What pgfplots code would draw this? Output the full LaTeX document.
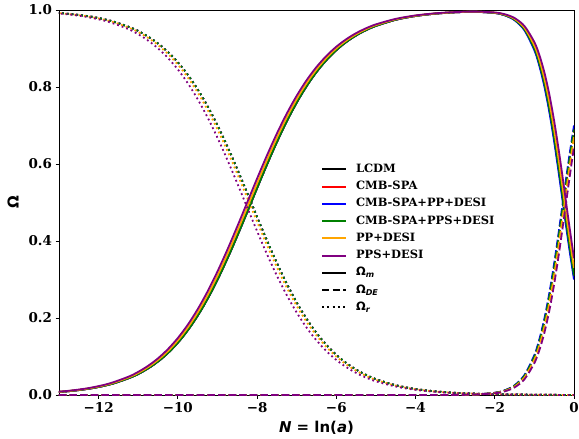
\documentclass[border=0pt]{standalone}
\usepackage{fontspec}
\setmainfont{DejaVu Serif}
\newfontfamily\dvs{DejaVu Sans}
\usepackage{pgfplots}
\pgfplotsset{compat=1.18}
\definecolor{mgreen}{HTML}{008000}
\definecolor{morange}{HTML}{FFA500}
\definecolor{mpurple}{HTML}{800080}
\tikzset{
  om/.style={line width=1.8bp, solid, smooth},
  ode/.style={line width=1.8bp, dash pattern=on 7.4bp off 3.2bp, smooth},
  orr/.style={line width=1.8bp, dash pattern=on 1.8bp off 3.0bp, smooth},
}
% Omega_m solid
\newcommand{\GreenM}{(-13.65,0.0041)(-13.15,0.0067)(-12.65,0.0110)(-12.15,0.0180)(-11.65,0.0293)(-11.15,0.0474)(-10.9,0.0601)(-10.65,0.0759)(-10.4,0.0953)(-10.15,0.1192)(-9.9,0.1480)(-9.65,0.1824)(-9.4,0.2227)(-9.15,0.2689)(-8.9,0.3208)(-8.65,0.3775)(-8.4,0.4378)(-8.15,0.5)(-7.9,0.5622)(-7.65,0.6225)(-7.4,0.6792)(-7.15,0.7311)(-6.9,0.7773)(-6.65,0.8176)(-6.4,0.8520)(-6.15,0.8808)(-5.9,0.9047)(-5.65,0.9241)(-5.4,0.9399)(-5.15,0.9526)(-5,0.9589)(-4.5,0.9747)(-4,0.9845)(-3.5,0.9905)(-3,0.9940)(-2.5,0.9953)(-2,0.9924)(-1.75,0.9868)(-1.5,0.9746)(-1.25,0.9494)(-1,0.8996)(-0.875,0.8606)(-0.75,0.8096)(-0.625,0.7452)(-0.5,0.6680)(-0.375,0.5804)(-0.25,0.4874)(-0.125,0.3952)(0,0.3100)}
\newcommand{\BlueM}{(-13.65,0.0041)(-13.15,0.0067)(-12.65,0.0110)(-12.15,0.0180)(-11.65,0.0293)(-11.15,0.0474)(-10.9,0.0601)(-10.65,0.0759)(-10.4,0.0953)(-10.15,0.1192)(-9.9,0.1480)(-9.65,0.1824)(-9.4,0.2227)(-9.15,0.2689)(-8.9,0.3208)(-8.65,0.3775)(-8.4,0.4378)(-8.15,0.5)(-7.9,0.5622)(-7.65,0.6225)(-7.4,0.6792)(-7.15,0.7311)(-6.9,0.7773)(-6.65,0.8176)(-6.4,0.8520)(-6.15,0.8808)(-5.9,0.9047)(-5.65,0.9241)(-5.4,0.9399)(-5.15,0.9526)(-5,0.9589)(-4.5,0.9747)(-4,0.9845)(-3.5,0.9905)(-3,0.9940)(-2.5,0.9952)(-2,0.9922)(-1.75,0.9863)(-1.5,0.9735)(-1.25,0.9471)(-1,0.8953)(-0.875,0.8549)(-0.75,0.8022)(-0.625,0.7362)(-0.5,0.6574)(-0.375,0.5689)(-0.25,0.4756)(-0.125,0.3840)(0,0.3000)}
\newcommand{\OrangeM}{(-13.7,0.0041)(-13.2,0.0067)(-12.7,0.0110)(-12.2,0.0180)(-11.7,0.0293)(-11.2,0.0474)(-10.95,0.0601)(-10.7,0.0759)(-10.45,0.0953)(-10.2,0.1192)(-9.95,0.1480)(-9.7,0.1824)(-9.45,0.2227)(-9.2,0.2689)(-8.95,0.3208)(-8.7,0.3775)(-8.45,0.4378)(-8.2,0.5)(-7.95,0.5622)(-7.7,0.6225)(-7.45,0.6792)(-7.2,0.7311)(-6.95,0.7773)(-6.7,0.8176)(-6.45,0.8520)(-6.2,0.8808)(-5.95,0.9047)(-5.7,0.9241)(-5.45,0.9399)(-5.2,0.9526)(-5,0.9608)(-4.5,0.9759)(-4,0.9852)(-3.5,0.9909)(-3,0.9943)(-2.5,0.9956)(-2,0.9930)(-1.75,0.9879)(-1.5,0.9768)(-1.25,0.9536)(-1,0.9076)(-0.875,0.8713)(-0.75,0.8233)(-0.625,0.7623)(-0.5,0.6880)(-0.375,0.6026)(-0.25,0.5104)(-0.125,0.4174)(0,0.3300)}
\newcommand{\PurpleM}{(-13.75,0.0041)(-13.25,0.0067)(-12.75,0.0110)(-12.25,0.0180)(-11.75,0.0293)(-11.25,0.0474)(-11.0,0.0601)(-10.75,0.0759)(-10.5,0.0953)(-10.25,0.1192)(-10.0,0.1480)(-9.75,0.1824)(-9.5,0.2227)(-9.25,0.2689)(-9.0,0.3208)(-8.75,0.3775)(-8.5,0.4378)(-8.25,0.5)(-8.0,0.5622)(-7.75,0.6225)(-7.5,0.6792)(-7.25,0.7311)(-7.0,0.7773)(-6.75,0.8176)(-6.5,0.8520)(-6.25,0.8808)(-6.0,0.9047)(-5.75,0.9241)(-5.5,0.9399)(-5.25,0.9526)(-5,0.9627)(-4.5,0.9770)(-4,0.9859)(-3.5,0.9914)(-3,0.9946)(-2.5,0.9958)(-2,0.9936)(-1.75,0.9891)(-1.5,0.9791)(-1.25,0.9582)(-1,0.9165)(-0.875,0.8832)(-0.75,0.8389)(-0.625,0.7818)(-0.5,0.7113)(-0.375,0.6288)(-0.25,0.5381)(-0.125,0.4446)(0,0.3550)}
% Omega_DE dashed
\newcommand{\GreenDE}{(-13,0)(-5,0)(-4,0.00001)(-3,0.0003)(-2.5,0.0012)(-2,0.0055)(-1.75,0.0115)(-1.5,0.0241)(-1.25,0.0497)(-1,0.0997)(-0.875,0.1388)(-0.75,0.1899)(-0.625,0.2544)(-0.5,0.3317)(-0.375,0.4194)(-0.25,0.5124)(-0.125,0.6046)(0,0.6899)}
\newcommand{\BlueDE}{(-13,0)(-5,0)(-4,0.00001)(-3,0.0003)(-2.5,0.0013)(-2,0.0057)(-1.75,0.0121)(-1.5,0.0252)(-1.25,0.0520)(-1,0.1040)(-0.875,0.1445)(-0.75,0.1973)(-0.625,0.2634)(-0.5,0.3423)(-0.375,0.4309)(-0.25,0.5242)(-0.125,0.6159)(0,0.6999)}
\newcommand{\OrangeDE}{(-13,0)(-5,0)(-4,0.00001)(-3,0.0002)(-2.5,0.0011)(-2,0.0050)(-1.75,0.0105)(-1.5,0.0220)(-1.25,0.0455)(-1,0.0917)(-0.875,0.1281)(-0.75,0.1762)(-0.625,0.2373)(-0.5,0.3117)(-0.375,0.3972)(-0.25,0.4895)(-0.125,0.5825)(0,0.6699)}
\newcommand{\PurpleDE}{(-13,0)(-5,0)(-4,0.00001)(-3,0.0002)(-2.5,0.0010)(-2,0.0045)(-1.75,0.0094)(-1.5,0.0198)(-1.25,0.0409)(-1,0.0829)(-0.875,0.1162)(-0.75,0.1607)(-0.625,0.2178)(-0.5,0.2884)(-0.375,0.3709)(-0.25,0.4618)(-0.125,0.5552)(0,0.6449)}
% Omega_r dotted
\newcommand{\GreenR}{(-13.65,0.9959)(-13.15,0.9933)(-12.65,0.9890)(-12.15,0.9820)(-11.65,0.9707)(-11.15,0.9526)(-10.9,0.9399)(-10.65,0.9241)(-10.4,0.9047)(-10.15,0.8808)(-9.9,0.8520)(-9.65,0.8176)(-9.4,0.7773)(-9.15,0.7311)(-8.9,0.6792)(-8.65,0.6225)(-8.4,0.5622)(-8.15,0.5)(-7.9,0.4378)(-7.65,0.3775)(-7.4,0.3208)(-7.15,0.2689)(-6.9,0.2227)(-6.65,0.1824)(-6.4,0.1480)(-6.15,0.1192)(-5.9,0.0953)(-5.65,0.0759)(-5.4,0.0601)(-5.15,0.0474)(-5,0.0411)(-4.5,0.0253)(-4,0.0155)(-3.5,0.0095)(-3,0.0058)(-2.5,0.0035)(-2,0.0021)(-1.5,0.0013)(-1,0.0007)(-0.5,0.0003)(0,0.0001)}
\newcommand{\OrangeR}{(-13.7,0.9959)(-13.2,0.9933)(-12.7,0.9890)(-12.2,0.9820)(-11.7,0.9707)(-11.2,0.9526)(-10.95,0.9399)(-10.7,0.9241)(-10.45,0.9047)(-10.2,0.8808)(-9.95,0.8520)(-9.7,0.8176)(-9.45,0.7773)(-9.2,0.7311)(-8.95,0.6792)(-8.7,0.6225)(-8.45,0.5622)(-8.2,0.5)(-7.95,0.4378)(-7.7,0.3775)(-7.45,0.3208)(-7.2,0.2689)(-6.95,0.2227)(-6.7,0.1824)(-6.45,0.1480)(-6.2,0.1192)(-5.95,0.0953)(-5.7,0.0759)(-5.45,0.0601)(-5.2,0.0474)(-5,0.0392)(-4.5,0.0241)(-4,0.0148)(-3.5,0.0090)(-3,0.0055)(-2.5,0.0033)(-2,0.0020)(-1.5,0.0012)(-1,0.0007)(-0.5,0.0003)(0,0.0001)}
\newcommand{\PurpleR}{(-13.8,0.9959)(-13.3,0.9933)(-12.8,0.9890)(-12.3,0.9820)(-11.8,0.9707)(-11.3,0.9526)(-11.05,0.9399)(-10.8,0.9241)(-10.55,0.9047)(-10.3,0.8808)(-10.05,0.8520)(-9.8,0.8176)(-9.55,0.7773)(-9.3,0.7311)(-9.05,0.6792)(-8.8,0.6225)(-8.55,0.5622)(-8.3,0.5)(-8.05,0.4378)(-7.8,0.3775)(-7.55,0.3208)(-7.3,0.2689)(-7.05,0.2227)(-6.8,0.1824)(-6.55,0.1480)(-6.3,0.1192)(-6.05,0.0953)(-5.8,0.0759)(-5.55,0.0601)(-5.3,0.0474)(-5,0.0356)(-4.5,0.0219)(-4,0.0134)(-3.5,0.0082)(-3,0.0050)(-2.5,0.0030)(-2,0.0018)(-1.5,0.0011)(-1,0.0007)(-0.5,0.0003)(0,0.0001)}
\begin{document}
\begin{tikzpicture}
\begin{axis}[
  scale only axis, width=515bp, height=385bp,
  xmin=-13, xmax=0, ymin=0, ymax=1,
  axis line style={line width=0.8bp},
  tick align=outside, xtick pos=bottom, ytick pos=left,
  major tick length=3.5bp,
  tick style={black, line width=0.8bp},
  xtick={-12,-10,-8,-6,-4,-2,0},
  xticklabels={−12,−10,−8,−6,−4,−2,0},
  ytick={0,0.2,0.4,0.6,0.8,1.0},
  yticklabels={0.0,0.2,0.4,0.6,0.8,1.0},
  ticklabel style={font=\fontsize{13.5}{15}\selectfont\bfseries},
  xlabel={\dvs\bfseries\itshape N\upshape\ = ln(\itshape a\upshape)},
  ylabel={\dvs\bfseries Ω},
  label style={font=\fontsize{15}{17}\selectfont},
  xlabel shift=2bp,
  ylabel shift=3bp,
  legend cell align=left,
  legend image code/.code={\draw[#1] (0bp,0bp) -- (24bp,0bp);},
  legend style={at={(0.5088,0.6026)}, anchor=north west, draw=none, fill=none,
    inner sep=0pt, outer sep=0pt, row sep=4.25bp,
    font=\fontsize{11.5}{13}\selectfont\bfseries,
    nodes={inner sep=1bp, text height=8.5bp, text depth=2.5bp},
    /tikz/every odd column/.append style={column sep=8bp}},
]
\addlegendimage{black, line width=2bp}\addlegendentry{LCDM}
\addlegendimage{red, line width=2bp}\addlegendentry{CMB-SPA}
\addlegendimage{blue, line width=2bp}\addlegendentry{CMB-SPA+PP+DESI}
\addlegendimage{mgreen, line width=2bp}\addlegendentry{CMB-SPA+PPS+DESI}
\addlegendimage{morange, line width=2bp}\addlegendentry{PP+DESI}
\addlegendimage{mpurple, line width=2bp}\addlegendentry{PPS+DESI}
\addlegendimage{black, line width=2bp}\addlegendentry{{\dvs Ω\textsubscript{\itshape m}}}
\addlegendimage{black, line width=2bp, dash pattern=on 7.4bp off 3.2bp}\addlegendentry{{\dvs Ω\textsubscript{\itshape DE}}}
\addlegendimage{black, line width=2bp, dash pattern=on 2bp off 3.3bp}\addlegendentry{{\dvs Ω\textsubscript{\itshape r}}}
% LCDM
\addplot[forget plot, black, om] coordinates {\GreenM};
\addplot[forget plot, black, ode] coordinates {\GreenDE};
\addplot[forget plot, black, orr] coordinates {\GreenR};
% CMB-SPA
\addplot[forget plot, red, om] coordinates {\GreenM};
\addplot[forget plot, red, ode] coordinates {\GreenDE};
\addplot[forget plot, red, orr] coordinates {\GreenR};
% CMB-SPA+PP+DESI
\addplot[forget plot, blue, om] coordinates {\BlueM};
\addplot[forget plot, blue, ode] coordinates {\BlueDE};
\addplot[forget plot, blue, orr] coordinates {\GreenR};
% CMB-SPA+PPS+DESI
\addplot[forget plot, mgreen, om] coordinates {\GreenM};
\addplot[forget plot, mgreen, ode] coordinates {\GreenDE};
\addplot[forget plot, mgreen, orr] coordinates {\GreenR};
% PP+DESI
\addplot[forget plot, morange, om] coordinates {\OrangeM};
\addplot[forget plot, morange, ode] coordinates {\OrangeDE};
\addplot[forget plot, morange, orr] coordinates {\OrangeR};
% PPS+DESI
\addplot[forget plot, mpurple, om] coordinates {\PurpleM};
\addplot[forget plot, mpurple, ode] coordinates {\PurpleDE};
\addplot[forget plot, mpurple, orr] coordinates {\PurpleR};
\end{axis}
\pgfresetboundingbox
\path[use as bounding box] ([xshift=-59bp,yshift=-44bp]current axis.south west) rectangle ([xshift=5bp,yshift=10bp]current axis.north east);
\end{tikzpicture}
\end{document}
